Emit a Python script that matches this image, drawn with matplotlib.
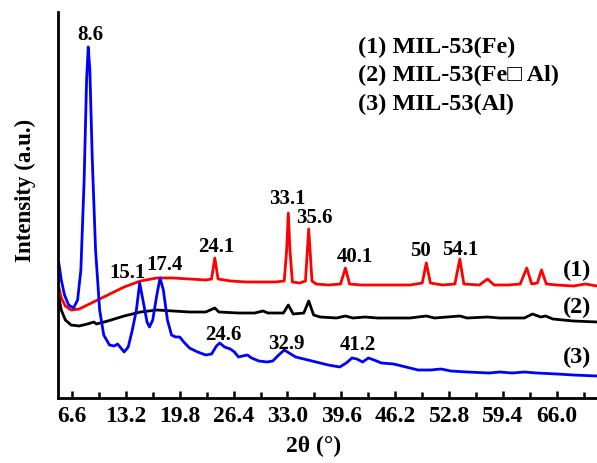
import matplotlib
matplotlib.use("Agg")
import matplotlib.pyplot as plt
from matplotlib.ticker import MultipleLocator, FixedLocator

plt.rcParams['font.family'] = ['Liberation Serif', 'DejaVu Sans']
plt.rcParams['font.weight'] = 'bold'

# ---- data (2theta in degrees, intensity in arbitrary units, offset stacked) ----
fe_x = [5.0, 5.3, 5.8, 6.5, 7.5, 9, 11, 13, 15, 17, 19, 21, 23, 23.7, 24.1, 24.5, 26, 28, 30, 31.5,
        32.6, 32.9, 33.1, 33.3, 33.6, 34.5, 35.2, 35.6, 36.0, 36.5, 38, 39.5, 40.1, 40.6, 42, 45, 48,
        49.5, 50.0, 50.5, 52, 53.5, 54.1, 54.6, 56.5, 57.5, 58.3, 60, 61.5, 62.3, 62.9, 63.6, 64.1,
        64.7, 66, 68, 69.5, 70.9]
fe_y = [287, 298, 306, 310, 309, 303, 295, 287, 281, 278, 278, 279, 280, 279, 258, 279, 281, 282, 282, 282,
        281, 250, 213, 250, 282, 283, 281, 229, 281, 284, 285, 284, 268, 284, 285, 285, 285,
        283, 263, 283, 285, 284, 259, 284, 285, 279, 285, 285, 284, 268, 284, 283, 270,
        284, 285, 286, 284, 286]

feal_x = [5.0, 5.3, 5.8, 6.5, 7.5, 8.5, 9.3, 9.6, 11, 13, 15, 17, 19, 21, 23, 24.1, 24.6, 27, 29, 30,
          30.6, 32.5, 33.1, 33.7, 35, 35.6, 36.2, 37, 39, 40.1, 41, 42.5, 44, 48, 50, 51, 54.1, 55,
          57.5, 59, 62, 63, 64, 64.6, 65.5, 68, 70.9]
feal_y = [297, 310, 320, 325, 326, 324, 322, 324, 321, 316, 312, 310, 311, 312, 312, 308, 312, 313, 313, 311,
          313, 313, 305, 314, 313, 301, 315, 317, 318, 316, 318, 317, 318, 318, 316, 318, 316, 318,
          317, 318, 318, 314, 317, 316, 319, 321, 322]

al_x = [5.0, 5.3, 5.7, 6.2, 6.8, 7.3, 7.7, 8.1, 8.4, 8.6, 8.8, 9.1, 9.5, 10.0, 10.5, 11.2, 11.8, 12.2,
        12.6, 13.0, 13.5, 14.0, 14.5, 14.9, 15.3, 15.8, 16.1, 16.5, 17.0, 17.4, 17.8, 18.3, 18.8, 19.3,
        19.8, 20.3, 21, 22, 23, 23.7, 24.3, 24.7, 25.3, 26.0, 26.5, 27.0, 27.5, 28.1, 28.6, 29.5, 30.5,
        31.2, 31.8, 32.6, 33.2, 34, 35, 36.5, 38, 39.4, 40.2, 40.9, 41.5, 42.2, 42.9, 43.6, 44.5, 46,
        47.5, 49, 50.5, 51.8, 53, 55, 57.7, 59, 60.5, 62, 63.5, 66, 68, 70.9]
al_y = [263, 280, 295, 305, 308, 300, 270, 180, 80, 47, 70, 160, 250, 310, 335, 345, 346, 344,
        348, 352, 347, 330, 310, 283, 300, 322, 327, 320, 295, 278, 290, 320, 335, 337,
        337, 342, 348, 352, 355, 354, 346, 343, 347, 349, 352, 357, 356, 355, 358, 361, 362,
        361, 356, 350, 353, 357, 359, 362, 365, 367, 363, 358, 359, 362, 358, 360, 363, 364,
        367, 370, 370, 369, 371, 372, 373, 372, 373, 372, 373, 374, 375, 376]

series_names = ["(1) MIL-53(Fe)", "(2) MIL-53(Fe\u25a1 Al)", "(3) MIL-53(Al)"]
series_tags = ["(1)", "(2)", "(3)"]
series_colors = ["#ff0000", "#000000", "#0000ff"]

peak_labels = ["8.6", "33.1", "35.6", "24.1", "15.1", "17.4", "24.6", "32.9", "40.1", "50", "54.1", "41.2"]
peak_label_x = [8.8, 33.0, 36.3, 24.3, 13.4, 18.0, 25.2, 32.9, 41.3, 49.3, 54.2, 41.6]
peak_label_y = [363, 199, 180, 151, 125, 133, 63, 54, 141, 147, 148, 53]

tag_x = [68.5, 68.5, 68.5]
tag_y = [128, 91, 41]

xticks = [6.6, 13.2, 19.8, 26.4, 33.0, 39.6, 46.2, 52.8, 59.4, 66.0]
xticklabels = ["6.6", "13.2", "19.8", "26.4", "33.0", "39.6", "46.2", "52.8", "59.4", "66.0"]

BASE = 398
fig = plt.figure(figsize=(5.97, 4.63), dpi=100)
ax = fig.add_axes([58 / 597, 65 / 463, 1 - 58 / 597, (398 - 12) / 463])

for xs, ys, c in zip([fe_x, feal_x, al_x], [fe_y, feal_y, al_y], series_colors):
    ax.plot(xs, [BASE - v for v in ys], color=c, lw=2.0, solid_joinstyle='round')

ax.set_xlim(4.9, 70.9)
ax.set_ylim(0, 386)

for s in ['top', 'right']:
    ax.spines[s].set_visible(False)
for s in ['left', 'bottom']:
    ax.spines[s].set_linewidth(2.0)

ax.set_yticks([])
ax.xaxis.set_major_locator(FixedLocator(xticks))
ax.set_xticklabels(xticklabels, fontsize=17, fontweight='bold')
ax.xaxis.set_minor_locator(MultipleLocator(3.3))
ax.tick_params(axis='x', which='major', direction='in', length=5, width=1.8, pad=6)
ax.tick_params(axis='x', which='minor', direction='in', length=4, width=1.8)

fig.text(314 / 597, 1 - 446 / 463, "2\u03b8 (\u00b0)", ha='center', va='center', fontsize=17, fontweight='bold')
fig.text(25 / 597, 1 - 190 / 463, "Intensity (a.u.)", ha='center', va='center', rotation=90,
         fontsize=16.5, fontweight='bold')

for lab, px, py in zip(peak_labels, peak_label_x, peak_label_y):
    ax.text(px, py, lab, ha='center', va='center', fontsize=15, fontweight='bold')

for t, px, py in zip(series_tags, tag_x, tag_y):
    ax.text(px, py, t, ha='center', va='center', fontsize=17.5, fontweight='bold')

for i, name in enumerate(series_names):
    fig.text(358 / 597, 1 - (47 + 28.5 * i) / 463, name, ha='left', va='center', fontsize=17.5,
             fontweight='bold')

fig.savefig("out.png", dpi=100)
